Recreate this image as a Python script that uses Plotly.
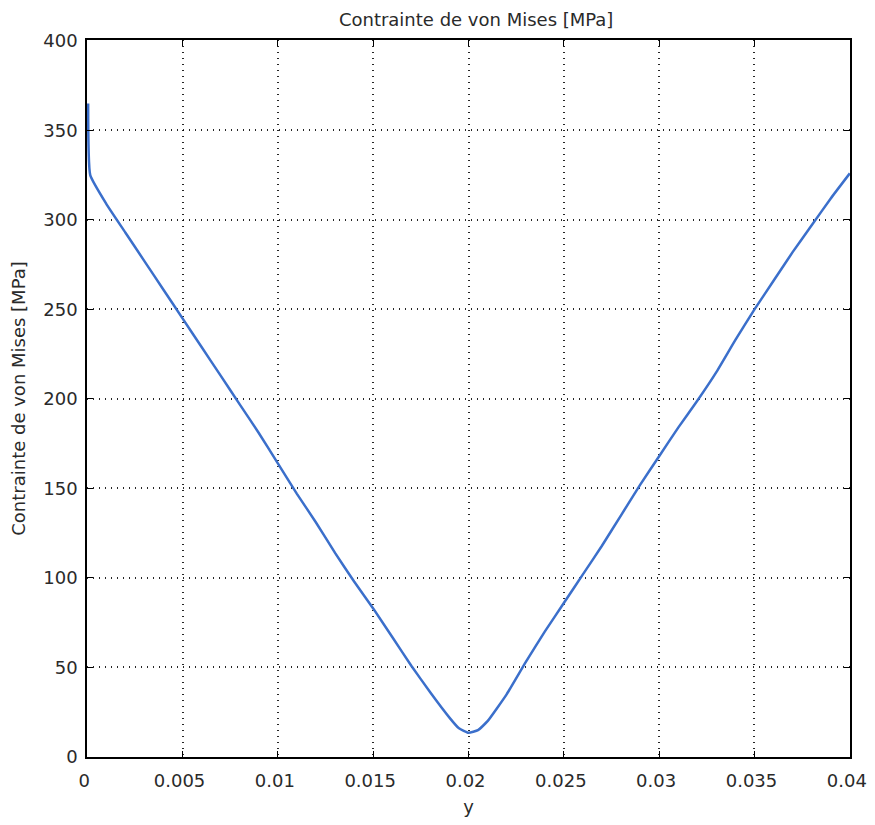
import plotly.graph_objects as go

y_pos = [0.00005, 0.00016, 0.001, 0.002, 0.003, 0.004, 0.005, 0.006, 0.007, 0.008, 0.009,
         0.010, 0.011, 0.012, 0.013, 0.014, 0.015, 0.016, 0.017, 0.018, 0.019, 0.0195,
         0.020, 0.0205, 0.021, 0.022, 0.023, 0.024, 0.025, 0.026, 0.027, 0.028, 0.029,
         0.030, 0.031, 0.032, 0.033, 0.034, 0.035, 0.036, 0.037, 0.038, 0.039, 0.040]
stress = [365, 325, 309, 293, 277, 261, 245, 229, 213, 197, 181,
          164, 147, 131, 114, 98, 83, 67, 51, 36, 22, 16,
          13.5, 15, 20, 35, 53, 70, 86, 102, 118, 135, 152,
          168, 184, 199, 215, 233, 250, 266, 282, 297, 312, 326]

x_ticks = [0, 0.005, 0.01, 0.015, 0.02, 0.025, 0.03, 0.035, 0.04]
x_tick_labels = ["0", "0.005", "0.01", "0.015", "0.02", "0.025", "0.03", "0.035", "0.04"]
y_ticks = [0, 50, 100, 150, 200, 250, 300, 350, 400]

FONT = "DejaVu Sans"
TXT = "#2a2a2a"

fig = go.Figure()
fig.add_trace(go.Scatter(x=y_pos, y=stress, mode="lines", line_shape="spline",
                         line=dict(color="#3b6fcb", width=2.5, smoothing=0.4), showlegend=False))

axis_common = dict(showline=True, linecolor="black", linewidth=1.5, mirror="ticks",
                   ticks="inside", ticklen=6, tickcolor="black", automargin=False,
                   ticklabeloverflow="allow",
                   showgrid=True, gridcolor="rgba(0,0,0,0.85)", griddash="1px,5px", gridwidth=1.5,
                   zeroline=False, tickfont=dict(family=FONT, size=18, color=TXT))

fig.update_layout(
    width=859, height=809,
    margin=dict(l=79, r=17, t=32, b=60),
    paper_bgcolor="white", plot_bgcolor="white",
    title=dict(text="Contrainte de von Mises [MPa]", x=0.545, xanchor="center", y=0.993, yanchor="top",
               font=dict(family=FONT, size=18, color=TXT)),
    xaxis=dict(range=[-0.00001, 0.04001], tickvals=x_ticks, ticktext=x_tick_labels,
               ticklabelstandoff=7, ticklabelshift=-3,
               title=dict(text="y", font=dict(family=FONT, size=18, color=TXT), standoff=10),
               **axis_common),
    yaxis=dict(range=[0, 400.5], tickvals=y_ticks, ticklabelstandoff=4,
               title=dict(text="Contrainte de von Mises [MPa]", font=dict(family=FONT, size=18, color=TXT), standoff=15),
               **axis_common),
)

fig.write_html("out.html")
